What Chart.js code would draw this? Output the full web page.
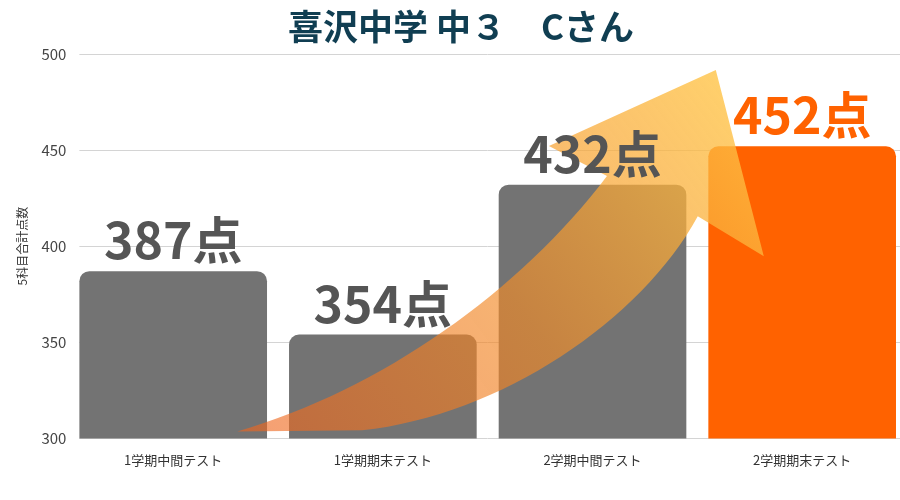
<!DOCTYPE html>
<html>
<head>
<meta charset="utf-8">
<script src="https://cdn.jsdelivr.net/npm/chart.js@4.4.1/dist/chart.umd.min.js"></script>
<style>
  html, body { margin: 0; padding: 0; background: #fff; overflow: hidden; }
  #wrap { width: 900px; height: 500px; overflow: hidden; }
</style>
</head>
<body>
<div id="wrap"><canvas id="c" width="907" height="500"></canvas></div>
<script>
/* ── 喜沢中学 中３ Cさん: test totals ── */

const categories = ['1学期中間テスト', '1学期期末テスト', '2学期中間テスト', '2学期期末テスト'];
const scores = [387, 354, 432, 452];
const yTicks = [300, 350, 400, 450, 500];

const FONT = '"Noto Sans CJK JP", "Noto Sans", sans-serif';
const barColors = ['#737373', '#737373', '#737373', '#ff6200'];
const labelColors = ['#555555', '#555555', '#555555', '#ff6200'];
const BAR_PCT = 0.895;

// rising arrow, in (category index, score) space
function arrowPath(ctx, chart) {
  const xs = chart.scales.x, ys = chart.scales.y;
  const step = xs.getPixelForValue(1) - xs.getPixelForValue(0);
  const p = (i, v) => [xs.getPixelForValue(0) + i * step, ys.getPixelForValue(v)];
  ctx.beginPath();
  ctx.moveTo(...p(0.305, 303.6));
  ctx.lineTo(...p(0.901, 304.2));
  ctx.bezierCurveTo(...p(1.563, 312.0), ...p(2.231, 361.5), ...p(2.502, 415.6));
  ctx.lineTo(...p(2.817, 394.8));
  ctx.lineTo(...p(2.588, 491.7));
  ctx.lineTo(...p(1.792, 452.1));
  ctx.lineTo(...p(2.069, 436.5));
  ctx.bezierCurveTo(...p(1.659, 377.1), ...p(0.991, 325.0), ...p(0.305, 303.6));
  ctx.closePath();
  return [p(0.305, 303.6), p(2.588, 491.7)];
}

// grid lines only run over the bars' span, not the outer half-gap
const gridTrim = {
  id: 'gridTrim',
  beforeDatasetsDraw(chart) {
    const { ctx, chartArea: a } = chart;
    const xs = chart.scales.x;
    const step = xs.getPixelForValue(1) - xs.getPixelForValue(0);
    const gap = step * (1 - BAR_PCT) / 2;
    ctx.save();
    ctx.fillStyle = '#fff';
    ctx.fillRect(a.left - 1, a.top - 2, gap + 1, a.bottom - a.top + 4);
    ctx.restore();
  }
};

const arrowPlugin = {
  id: 'arrow',
  afterDatasetsDraw(chart) {
    const ctx = chart.ctx;
    ctx.save();
    const [a, b] = arrowPath(ctx, chart);
    const g = ctx.createLinearGradient(a[0], a[1], b[0], b[1]);
    g.addColorStop(0, 'rgba(238,100,30,0.62)');
    g.addColorStop(0.5, 'rgba(242,140,40,0.66)');
    g.addColorStop(1, 'rgba(255,196,70,0.8)');
    ctx.fillStyle = g;
    ctx.fill();
    ctx.restore();
  }
};

const labelPlugin = {
  id: 'barLabels',
  afterDraw(chart) {
    const ctx = chart.ctx;
    const meta = chart.getDatasetMeta(0);
    ctx.save();
    ctx.font = 'bold 50px ' + FONT;
    ctx.textAlign = 'center';
    ctx.textBaseline = 'alphabetic';
    meta.data.forEach((bar, i) => {
      ctx.fillStyle = labelColors[i];
      ctx.fillText(scores[i] + '点', bar.x, bar.y - 12);
    });
    ctx.restore();
  }
};

new Chart(document.getElementById('c'), {
  type: 'bar',
  data: {
    labels: categories,
    datasets: [{
      data: scores,
      backgroundColor: barColors,
      borderRadius: { topLeft: 10, topRight: 10, bottomLeft: 0, bottomRight: 0 },
      borderSkipped: false,
      barPercentage: BAR_PCT,
      categoryPercentage: 1.0,
    }]
  },
  options: {
    responsive: false,
    animation: false,
    layout: { padding: { left: 15, right: 0, top: 0, bottom: 26 } },
    plugins: {
      legend: { display: false },
      tooltip: { enabled: false },
      title: {
        display: true,
        text: '喜沢中学 中３　Cさん',
        color: '#103e52',
        font: { family: FONT, size: 35, weight: 'bold' },
        padding: { top: 6, bottom: 6 }
      }
    },
    scales: {
      x: {
        grid: { display: false },
        border: { display: false },
        ticks: { color: '#333', font: { family: FONT, size: 13 }, padding: 6 }
      },
      y: {
        min: 300, max: 500,
        afterBuildTicks: s => { s.ticks = yTicks.map(v => ({ value: v })); },
        grid: { color: '#d4d4d4', drawTicks: false },
        border: { display: false },
        ticks: { color: '#444', font: { family: FONT, size: 15 }, padding: 2 },
        title: {
          display: true,
          text: '5科目合計点数',
          color: '#333',
          font: { family: FONT, size: 12 },
          padding: { top: 0, bottom: 10 }
        }
      }
    }
  },
  plugins: [gridTrim, arrowPlugin, labelPlugin]
});
</script>
</body>
</html>
